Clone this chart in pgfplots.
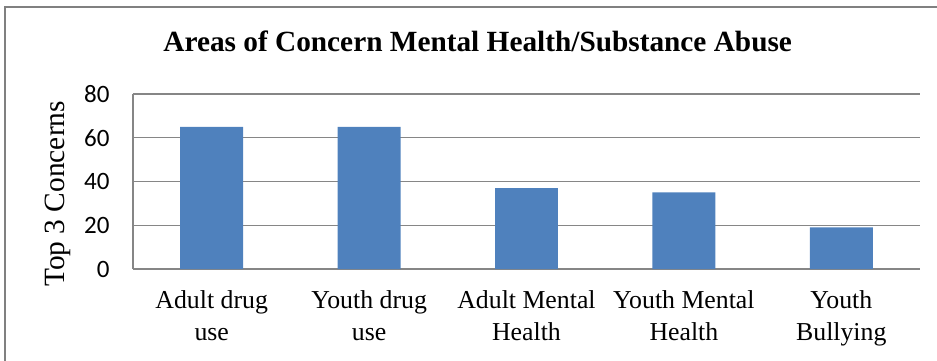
\documentclass[border=0pt]{standalone}
\usepackage{pgfplots}
\pgfplotsset{compat=1.18}
\usepackage{fontspec}
\setmainfont{Liberation Serif}
\newfontfamily\calibri{Carlito}
\definecolor{barblue}{HTML}{4F81BD}
\definecolor{gridgray}{HTML}{868686}
\definecolor{framegray}{HTML}{808080}
\begin{document}
\begin{tikzpicture}
\begin{axis}[
  scale only axis,
  width=787pt, height=175pt,
  xmin=-0.5, xmax=4.5,
  ymin=0, ymax=80,
  ytick={0,20,40,60,80},
  xtick=data,
  xticklabels={{Adult drug\\use},{Youth drug\\use},{Adult Mental\\Health},{Youth Mental\\Health},{Youth\\Bullying}},
  xticklabel style={align=center, font=\fontsize{25.8}{32}\selectfont, yshift=-18pt},
  yticklabel style={font=\calibri\fontsize{25}{30}\selectfont, xshift=-20pt},
  /pgf/number format/assume math mode=true,
  major tick length=0pt,
  ymajorgrids,
  grid style={draw=gridgray, line width=1.3pt},
  axis x line*=bottom,
  axis y line*=left,
  axis line style={draw=gridgray, line width=1.3pt, -},
  title={Areas of Concern Mental Health/Substance Abuse},
  title style={font=\bfseries\fontsize{29.3}{34}\selectfont, at={(axis description cs:0.438,1.269)}, anchor=center},
  ylabel={Top 3 Concerns},
  ylabel style={font=\fontsize{29.4}{34}\selectfont, at={(axis description cs:-0.096,0.429)}, anchor=center, rotate=0},
  ybar,
  bar width=0.4,
]
\addplot[fill=barblue, draw=none] coordinates {(0,65) (1,65) (2,37) (3,35) (4,19)};
\end{axis}
\draw[framegray, line width=2pt] (-128pt,-95pt) -- (-128pt,262pt) -- (810pt,262pt);
\pgfresetboundingbox
\useasboundingbox (-133pt,-91pt) rectangle (804pt,269pt);
\end{tikzpicture}
\end{document}
